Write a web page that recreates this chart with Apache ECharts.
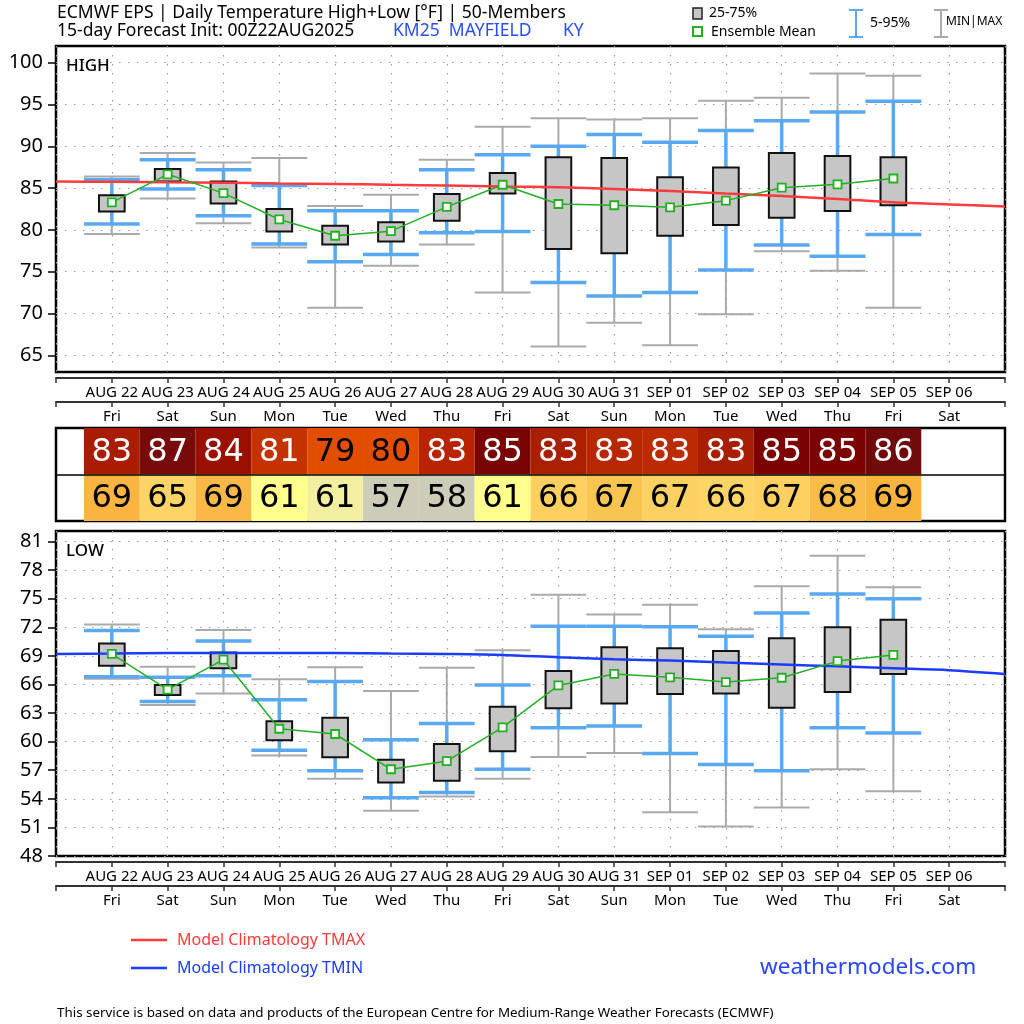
<!DOCTYPE html>
<html><head><meta charset="utf-8">
<script src="https://cdn.jsdelivr.net/npm/echarts@6/dist/echarts.min.js"></script>
<style>html,body{margin:0;padding:0;background:#fff}#c{width:1024px;height:1024px}</style>
</head><body><div id="c"></div>
<script>
// ---------- DATA ----------
const dates    = ['AUG 22','AUG 23','AUG 24','AUG 25','AUG 26','AUG 27','AUG 28','AUG 29','AUG 30','AUG 31','SEP 01','SEP 02','SEP 03','SEP 04','SEP 05','SEP 06'];
const weekdays = ['Fri','Sat','Sun','Mon','Tue','Wed','Thu','Fri','Sat','Sun','Mon','Tue','Wed','Thu','Fri','Sat'];

// HIGH (daily max temperature, °F)
const hiMin  = [79.5, 83.75, 80.8, 77.9, 70.7, 75.7, 78.25, 72.5, 66.05, 68.9, 66.2, 69.9, 77.45, 75.1, 70.7];
const hiP5   = [80.7, 84.9, 81.7, 78.3, 76.2, 77.05, 79.65, 79.8, 73.7, 72.1, 72.5, 75.2, 78.2, 76.85, 79.45];
const hiQ1   = [82.2, 85.8, 83.15, 79.8, 78.25, 78.6, 81.1, 84.35, 77.7, 77.2, 79.3, 80.6, 81.45, 82.25, 82.95];
const hiQ3   = [84.15, 87.3, 85.8, 82.5, 80.5, 80.9, 84.3, 86.8, 88.7, 88.6, 86.3, 87.45, 89.2, 88.85, 88.7];
const hiP95  = [86.0, 88.4, 87.2, 85.3, 82.3, 82.3, 87.2, 89.0, 90.0, 91.4, 90.5, 91.9, 93.05, 94.1, 95.4];
const hiMax  = [86.4, 89.2, 88.05, 88.6, 82.85, 84.2, 88.4, 92.35, 93.35, 93.2, 93.35, 95.45, 95.8, 98.7, 98.45];
const hiMean = [83.3, 86.65, 84.4, 81.25, 79.3, 79.85, 82.75, 85.4, 83.1, 82.95, 82.7, 83.5, 85.05, 85.45, 86.15];

// LOW (daily min temperature, °F)
const loMin  = [66.6, 63.85, 65.05, 58.55, 56.1, 52.75, 54.25, 56.1, 58.4, 58.8, 52.6, 51.1, 53.1, 57.1, 54.8];
const loP5   = [66.8, 64.2, 66.9, 59.1, 56.95, 54.1, 54.65, 57.1, 61.45, 61.65, 58.75, 57.6, 56.95, 61.45, 60.9];
const loQ1   = [67.95, 64.9, 67.7, 60.15, 58.35, 55.7, 55.9, 59.0, 63.5, 64.0, 65.0, 65.05, 63.55, 65.2, 67.1];
const loQ3   = [70.3, 65.95, 69.35, 62.15, 62.5, 58.1, 59.75, 63.65, 67.4, 69.9, 69.8, 69.5, 70.85, 72.0, 72.8];
const loP95  = [71.65, 66.75, 70.55, 64.4, 66.3, 60.2, 61.9, 65.95, 72.1, 72.1, 72.05, 71.05, 73.5, 75.5, 75.0];
const loMax  = [72.3, 67.85, 71.7, 66.55, 67.8, 65.3, 67.75, 69.6, 75.4, 73.35, 74.35, 71.8, 76.3, 79.5, 76.2];
const loMean = [69.2, 65.45, 68.6, 61.35, 60.8, 57.1, 57.95, 61.5, 65.9, 67.1, 66.75, 66.25, 66.7, 68.45, 69.1];

// Model climatology, from the day before AUG 22 to the day after SEP 06
const climDayOffset = -1;
const tmaxClim = [85.8, 85.75, 85.7, 85.65, 85.55, 85.5, 85.4, 85.3, 85.2, 85.1, 84.9, 84.65, 84.35, 84.05, 83.7, 83.3, 83.05, 82.8];
const tminClim = [69.2, 69.25, 69.3, 69.3, 69.3, 69.3, 69.25, 69.2, 69.1, 68.85, 68.65, 68.5, 68.3, 68.1, 67.9, 67.7, 67.5, 67.1];

// Table (rounded ensemble means) and their colour-scale cells
const hiTable = [83, 87, 84, 81, 79, 80, 83, 85, 83, 83, 83, 83, 85, 85, 86];
const loTable = [69, 65, 69, 61, 61, 57, 58, 61, 66, 67, 67, 66, 67, 68, 69];
const hiCellColors = ['#a81c00','#780a0a','#9a1000','#c43200','#e24e00','#e24e00','#b82400','#7a0404','#a82000','#b82800','#bb2a00','#a81e00','#7c0202','#7c0202','#700a0a'];
const loCellColors = ['#f9b441','#fdd465','#fab946','#ffff8e','#f2f0a0','#ccccb8','#ccccb8','#ffff8e','#fdd060','#f8c552','#fdd062','#fdd465','#fdd060','#fabc48','#f9b43e'];
const hiTextColors = ['#fff','#fff','#fff','#fff','#000','#000','#fff','#fff','#fff','#fff','#fff','#fff','#fff','#fff','#fff'];
const loTextColors = ['#000','#000','#000','#000','#000','#000','#000','#000','#000','#000','#000','#000','#000','#000','#000'];

const hiTicks = [65, 70, 75, 80, 85, 90, 95, 100];
const loTicks = [48, 51, 54, 57, 60, 63, 66, 69, 72, 75, 78, 81];

// ---------- CHART ----------
const FONT = '"Noto Sans", sans-serif';
const BLUE_W = '#58a9f2', GRAY_W = '#aaaaaa', GREEN = '#22b022';

function boxData(mn, p5, q1, q3, p95, mx) {
  return mn.map((v, i) => [i, mn[i], p5[i], q1[i], q3[i], p95[i], mx[i]]);
}
function boxRender(params, api) {
  const x = api.value(0);
  const c = v => api.coord([x, v]);
  const unit = api.size([1, 0])[0];
  const capHalf = unit * 0.5, boxHalf = unit * 0.23;
  const pMin = c(api.value(1)), p5 = c(api.value(2)), q1 = c(api.value(3)),
        q3 = c(api.value(4)), p95 = c(api.value(5)), pMax = c(api.value(6));
  const cx = pMin[0];
  const ln = (x1, y1, x2, y2, col, w) => ({type: 'line', shape: {x1, y1, x2, y2}, style: {stroke: col, lineWidth: w}});
  return {type: 'group', children: [
    ln(cx, pMin[1], cx, pMax[1], GRAY_W, 2),
    ln(cx - capHalf, pMax[1], cx + capHalf, pMax[1], GRAY_W, 2),
    ln(cx - capHalf, pMin[1], cx + capHalf, pMin[1], GRAY_W, 2),
    ln(cx, p5[1], cx, p95[1], BLUE_W, 3.5),
    ln(cx - capHalf, p95[1], cx + capHalf, p95[1], BLUE_W, 3.5),
    ln(cx - capHalf, p5[1], cx + capHalf, p5[1], BLUE_W, 3.5),
    {type: 'rect', shape: {x: cx - boxHalf, y: q3[1], width: 2 * boxHalf, height: q1[1] - q3[1]},
     style: {fill: '#c6c6c6', stroke: '#111', lineWidth: 2}}
  ]};
}
function tableData() {
  const d = [];
  hiTable.forEach((v, i) => d.push([i, 1, v, hiCellColors[i], hiTextColors[i]]));
  loTable.forEach((v, i) => d.push([i, 0, v, loCellColors[i], loTextColors[i]]));
  return d;
}
const tableRows = tableData();
function tableRender(params, api) {
  const i = api.value(0), row = api.value(1);
  const item = tableRows[params.dataIndex];
  const a = api.coord([i - 0.5, row + 1]), b = api.coord([i + 0.5, row]);
  return {type: 'group', children: [
    {type: 'rect', shape: {x: a[0], y: a[1], width: b[0] - a[0], height: b[1] - a[1]}, style: {fill: item[3]}},
    {type: 'text', style: {text: String(item[2]), x: (a[0] + b[0]) / 2, y: (a[1] + b[1]) / 2 + 1,
      align: 'center', verticalAlign: 'middle', fill: item[4], font: '32px "DejaVu Sans", sans-serif'}}
  ]};
}

const dotted = {show: true, lineStyle: {color: '#9a9a9a', width: 1.2, type: [1.5, 7.5]}};
function dateAxis(gridIndex, offset, labels, showSplit) {
  return {
    type: 'value', gridIndex, min: -1, max: 16, interval: 1, position: 'bottom', offset,
    axisLine: {show: true, onZero: false, lineStyle: {color: '#333', width: 2}},
    axisTick: {show: true, length: 5, lineStyle: {color: '#333', width: 1.5}},
    axisLabel: {show: true, margin: 7, fontSize: 15, fontFamily: FONT, color: '#000',
      showMinLabel: true, showMaxLabel: true,
      formatter: v => (v >= 0 && v < labels.length) ? labels[v] : ''},
    splitLine: showSplit ? dotted : {show: false}
  };
}
function tempAxis(gridIndex, min, max, ticks) {
  return {
    type: 'value', gridIndex, min, max, position: 'left',
    axisLine: {show: false, onZero: false},
    axisTick: {show: true, length: 8, customValues: ticks, lineStyle: {color: '#000', width: 1.5}},
    axisLabel: {show: true, margin: 13, fontSize: 20, fontFamily: FONT, color: '#000', customValues: ticks},
    splitLine: dotted
  };
}
function meanLine(xi, yi, vals) {
  return {type: 'line', xAxisIndex: xi, yAxisIndex: yi, z: 5,
    data: vals.map((v, i) => [i, v]),
    symbol: 'rect', symbolSize: 8, showAllSymbol: true,
    lineStyle: {color: GREEN, width: 1.5},
    itemStyle: {color: '#fff', borderColor: GREEN, borderWidth: 1.8}};
}
function climLine(xi, yi, vals, color) {
  return {type: 'line', xAxisIndex: xi, yAxisIndex: yi, z: 4, smooth: 0.3,
    data: vals.map((v, i) => [i + climDayOffset, v]),
    symbol: 'none', lineStyle: {color, width: 2.5}};
}

const gridBase = {left: 56, right: 19, show: true, borderColor: '#000', borderWidth: 2.5, backgroundColor: 'transparent'};
const txt = (x, y, text, font, color) => ({type: 'text', x, y,
  style: {text, fill: color, font: font, verticalAlign: 'middle'}});
const ln = (x1, y1, x2, y2, col, w) => ({type: 'line', shape: {x1, y1, x2, y2}, style: {stroke: col, lineWidth: w}});
const F = (size, weight) => (weight ? weight + ' ' : '') + size + 'px ' + FONT;

const option = {
  backgroundColor: '#fff',
  animation: false,
  grid: [
    Object.assign({top: 46, height: 326}, gridBase),
    Object.assign({top: 428, height: 93}, gridBase),
    Object.assign({top: 531, height: 325}, gridBase)
  ],
  xAxis: [
    dateAxis(0, 6, dates, true),
    dateAxis(0, 30, weekdays, false),
    {type: 'value', gridIndex: 1, min: -1, max: 16, show: false, splitLine: {show: false}},
    dateAxis(2, 6, dates, true),
    dateAxis(2, 30, weekdays, false)
  ],
  yAxis: [
    tempAxis(0, 63, 102, hiTicks),
    {type: 'value', gridIndex: 1, min: 0, max: 2, show: false, splitLine: {show: false}},
    tempAxis(2, 48, 82.1, loTicks)
  ],
  series: [
    {type: 'custom', xAxisIndex: 0, yAxisIndex: 0, z: 3, renderItem: boxRender,
     data: boxData(hiMin, hiP5, hiQ1, hiQ3, hiP95, hiMax)},
    climLine(0, 0, tmaxClim, '#ff3b3b'),
    meanLine(0, 0, hiMean),
    {type: 'custom', xAxisIndex: 2, yAxisIndex: 1, z: 3, renderItem: tableRender, data: tableRows,
     markLine: {silent: true, symbol: 'none', label: {show: false},
       lineStyle: {color: '#000', width: 1.5, type: 'solid'}, data: [{yAxis: 1}]}},
    {type: 'custom', xAxisIndex: 3, yAxisIndex: 2, z: 3, renderItem: boxRender,
     data: boxData(loMin, loP5, loQ1, loQ3, loP95, loMax)},
    climLine(3, 2, tminClim, '#1a3cff'),
    meanLine(3, 2, loMean)
  ],
  graphic: [
    txt(57, 13, 'ECMWF EPS | Daily Temperature High+Low [°F] | 50-Members', F(17.5), '#000'),
    txt(57, 31, '15-day Forecast Init: 00Z22AUG2025', F(17.5), '#000'),
    txt(393, 31, 'KM25  MAYFIELD', F(17.5), '#2a4dff'),
    txt(563, 31, 'KY', F(17.5), '#2a4dff'),
    {type: 'rect', shape: {x: 693, y: 8, width: 9, height: 11}, style: {fill: '#c6c6c6', stroke: '#222', lineWidth: 1.5}},
    txt(709, 13, '25-75%', F(14), '#000'),
    {type: 'rect', shape: {x: 693, y: 27, width: 9, height: 9}, style: {fill: '#fff', stroke: GREEN, lineWidth: 2}},
    txt(711, 32, 'Ensemble Mean', F(14), '#000'),
    ln(856, 10, 856, 37, BLUE_W, 2), ln(849, 10, 863, 10, BLUE_W, 2), ln(849, 37, 863, 37, BLUE_W, 2),
    txt(870, 23, '5-95%', F(14), '#000'),
    ln(941, 10, 941, 37, GRAY_W, 2), ln(934, 10, 948, 10, GRAY_W, 2), ln(934, 37, 948, 37, GRAY_W, 2),
    txt(946, 22, 'MIN|MAX', F(12), '#000'),
    txt(66, 66, 'HIGH', F(17, 500), '#000'),
    txt(66, 551, 'LOW', F(17, 500), '#000'),
    ln(131, 940, 167, 940, '#ff3b3b', 2.5),
    txt(177, 940, 'Model Climatology TMAX', F(16), '#ff3b3b'),
    ln(131, 968, 167, 968, '#1a3cff', 2.5),
    txt(177, 968, 'Model Climatology TMIN', F(16), '#1a3cff'),
    txt(760, 968, 'weathermodels.com', F(22.5), '#2846ff'),
    txt(57, 1013, 'This service is based on data and products of the European Centre for Medium-Range Weather Forecasts (ECMWF)', F(13.4), '#000')
  ]
};
const chart = echarts.init(document.getElementById('c'), null, {renderer: 'canvas'});
chart.setOption(option);
</script></body></html>
